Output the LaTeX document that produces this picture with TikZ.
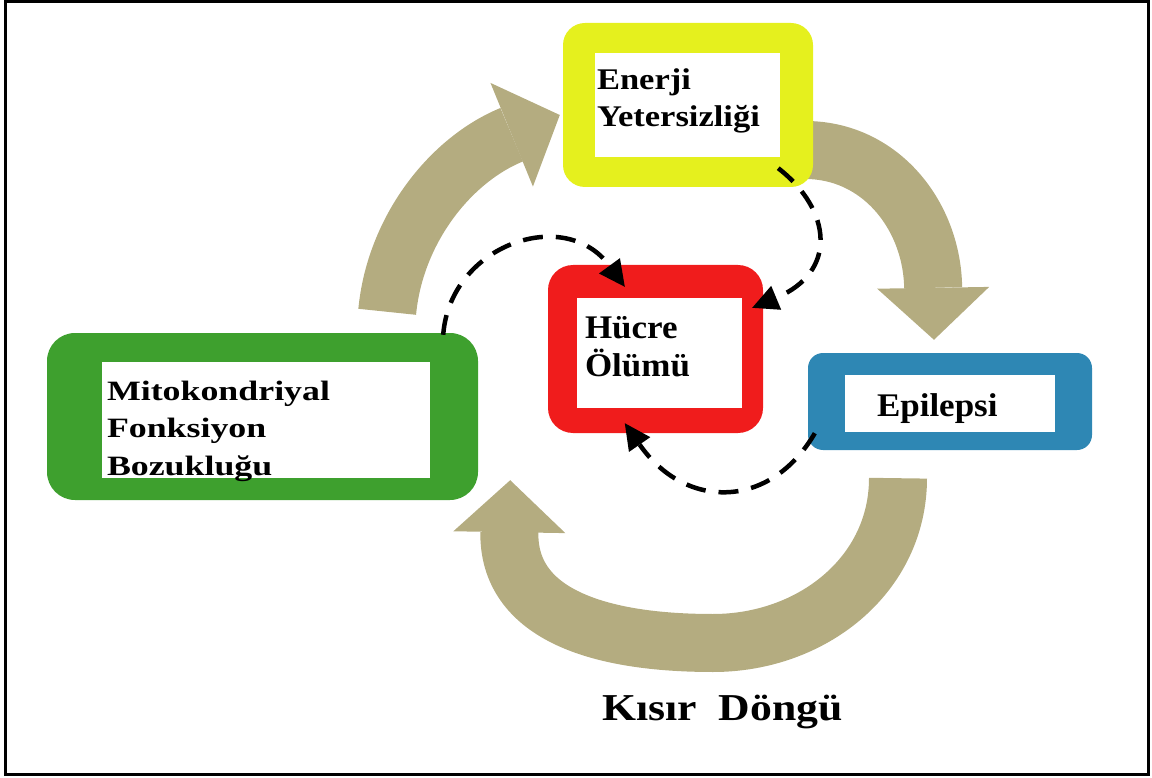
\documentclass[tikz,border=0pt]{standalone}
\usepackage{fontspec}
\setmainfont{Liberation Serif}
\newfontfamily\widefont[FakeStretch=1.28]{Liberation Serif}
\newfontfamily\midfont[FakeStretch=1.15]{Liberation Serif}
\newfontfamily\slightfont[FakeStretch=1.06]{Liberation Serif}
\usetikzlibrary{arrows.meta,backgrounds}

\definecolor{boxyellow}{RGB}{229,240,30}
\definecolor{boxred}{RGB}{240,28,28}
\definecolor{boxgreen}{RGB}{62,160,46}
\definecolor{boxblue}{RGB}{46,135,180}
\definecolor{cyclekhaki}{RGB}{180,172,128}

\tikzset{
  outerbox/.style={draw=none, inner sep=0pt},
  innerbox/.style={fill=white, inner sep=0pt},
  boxtext/.style={inner sep=0pt, align=left, anchor=north west},
  bigarrow/.style={draw=cyclekhaki, line width=58pt, -{Triangle[length=52pt,width=112pt,line width=0pt]}},
  dasharrow/.style={line width=4.5pt, dash pattern=on 20pt off 13pt, -{Triangle[length=26pt,width=26pt,line width=0pt]}}
}

\begin{document}
\begin{tikzpicture}[x=1pt,y=-1pt]
\useasboundingbox (0,0) rectangle (1152,778);
\draw[line width=3pt] (5.5,1.5) rectangle (1148.5,774.5);

% boxes
\node[outerbox, fill=boxyellow, rounded corners=22pt, minimum width=250pt, minimum height=164pt] (enerji) at (688,105) {};
\node[innerbox, minimum width=185pt, minimum height=104pt] (enerjiin) at (687.5,105) {};
\node[boxtext, font=\midfont\bfseries\fontsize{30}{37}\selectfont] (enerjitxt) at ([shift={(2,16)}]enerjiin.north west) {Enerji\\Yetersizliği};

\node[outerbox, fill=boxred, rounded corners=25pt, minimum width=215pt, minimum height=168pt] (hucre) at (655.5,349) {};
\node[innerbox, minimum width=165pt, minimum height=110pt] (hucrein) at (659.5,353) {};
\node[boxtext, font=\slightfont\bfseries\fontsize{33}{38}\selectfont] (hucretxt) at ([shift={(8,18)}]hucrein.north west) {Hücre\\Ölümü};

\node[outerbox, fill=boxgreen, rounded corners=28pt, minimum width=431pt, minimum height=167pt] (mito) at (262.5,416.5) {};
\node[innerbox, minimum width=328pt, minimum height=116pt] (mitoin) at (266,420) {};
\node[boxtext, font=\widefont\bfseries\fontsize{28}{37.5}\selectfont] (mitotxt) at ([shift={(5,19)}]mitoin.north west) {Mitokondriyal\\Fonksiyon\\Bozukluğu};

\node[outerbox, fill=boxblue, rounded corners=15pt, minimum width=284pt, minimum height=97pt] (epi) at (950,401.5) {};
\node[innerbox, minimum width=210pt, minimum height=57pt] (epiin) at (950,403.5) {};
\node[boxtext, font=\slightfont\bfseries\fontsize{33}{38}\selectfont] (epitxt) at ([shift={(32,19)}]epiin.north west) {Epilepsi};

\node[font=\midfont\bfseries\fontsize{38}{44}\selectfont, anchor=base west, inner sep=0pt] (kisir) at (602,720) {Kısır~~Döngü};

% cycle arrows
\begin{scope}[on background layer]
\draw[bigarrow] ([shift={(-91,-21)}]mito.north east) .. controls (395,230) and (450,160) .. ([shift={(-3,10)}]enerji.west);
\draw[bigarrow] ([shift={(-8,45)}]enerji.east) .. controls (880,150) and (932,215) .. ([shift={(-16,-13)}]epi.north);
\draw[bigarrow] ([shift={(-52,28)}]epi.south) .. controls (898,575) and (812,643) .. (713,643) .. controls (600,643) and (508,615) .. ([shift={(32,-20)}]mito.south east);
\end{scope}

% dashed arrows to cell death
\draw[dasharrow] ([shift={(-35,-19)}]enerji.south east) .. controls (832,210) and (838,272) .. ([shift={(-11,43)}]hucre.north east);
\draw[dasharrow] ([shift={(-35,2)}]mito.north east) .. controls (450,245) and (565,205) .. ([shift={(77,22)}]hucre.north west);
\draw[dasharrow] ([shift={(7,-17)}]epi.south west) .. controls (770,510) and (685,510) .. ([shift={(77,-10)}]hucre.south west);
\end{tikzpicture}
\end{document}
